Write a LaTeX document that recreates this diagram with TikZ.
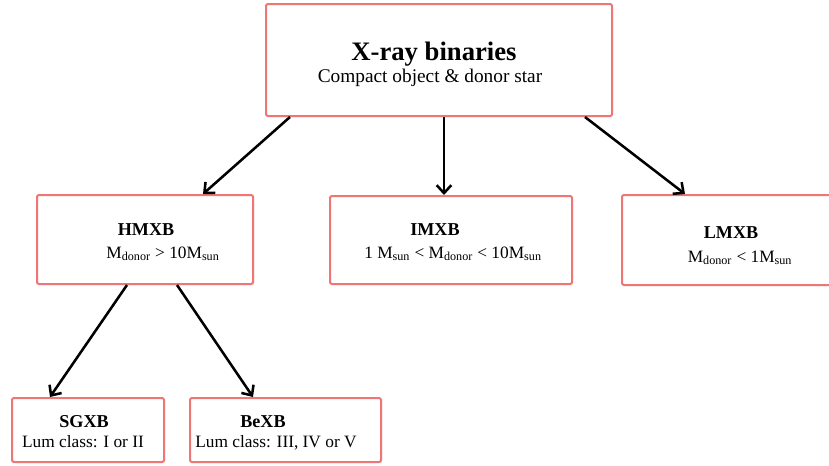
\documentclass[tikz,border=0pt]{standalone}
\usepackage{fontspec}
\setmainfont{Liberation Serif}
\usetikzlibrary{arrows.meta,shadows}
\definecolor{boxred}{RGB}{240,118,118}
\tikzset{
  box/.style={draw=boxred, line width=1.5pt, rounded corners=1.5pt, fill=white,
    drop shadow={opacity=0.18, shadow xshift=0.8pt, shadow yshift=-0.8pt},
    inner sep=0pt},
  arr/.style={line width=1.9pt, -{Straight Barb[length=6pt,width=11pt,line width=1.9pt]}},
  ttl/.style={anchor=base, inner sep=0pt, font=\fontsize{13.6}{15}\selectfont\bfseries},
  sub/.style={anchor=base, inner sep=0pt, font=\fontsize{13}{15}\selectfont},
}
\newcommand{\Msub}[1]{M\textsubscript{#1}}
\begin{document}
\begin{tikzpicture}[x=0.75pt,y=-0.75pt]
\useasboundingbox (0,0) rectangle (829,465);
\clip (0,0) rectangle (829,465);
% boxes
\node[box, minimum width=346*0.75pt, minimum height=112*0.75pt] (top) at (439,60) {};
\node[box, minimum width=216*0.75pt, minimum height=89*0.75pt] (hmxb) at (145,239.5) {};
\node[box, minimum width=242*0.75pt, minimum height=88*0.75pt] (imxb) at (451,240) {};
\node[box, minimum width=218*0.75pt, minimum height=90*0.75pt] (lmxb) at (731,240) {};
\node[box, minimum width=152*0.75pt, minimum height=64*0.75pt] (sgxb) at (88,430) {};
\node[box, minimum width=191*0.75pt, minimum height=64*0.75pt] (bexb) at (285.5,430) {};
% texts
\node[anchor=base, inner sep=0pt, font=\fontsize{20}{24}\selectfont\bfseries] (toptitle) at (434,60) {X-ray binaries};
\node[anchor=base, inner sep=0pt, font=\fontsize{14.5}{17}\selectfont] (topsub) at (430,82) {Compact object \& donor star};
\node[ttl] (hmxbt) at (146,235) {HMXB};
\node[sub] (hmxbs) at (163,258) {\Msub{donor} > 10\Msub{sun}};
\node[ttl] (imxbt) at (435,235) {IMXB};
\node[sub] (imxbs) at (453,258) {1 \Msub{sun} < \Msub{donor} < 10\Msub{sun}};
\node[ttl] (lmxbt) at (731,238) {LMXB};
\node[sub] (lmxbs) at (740,262) {\Msub{donor} < 1\Msub{sun}};
\node[ttl] (sgxbt) at (84,427) {SGXB};
\node[sub] (sgxbs) at (83,447) {Lum class: I or II};
\node[ttl] (bexbt) at (263,427) {BeXB};
\node[sub] (bexbs) at (276,447) {Lum class: III, IV or V};
% arrow anchor x positions
\coordinate (c1) at (290,0);
\coordinate (c2) at (203,0);
\coordinate (c3) at (444,0);
\coordinate (c4) at (585,0);
\coordinate (c5) at (685,0);
\coordinate (c6) at (127,0);
\coordinate (c7) at (50,0);
\coordinate (c8) at (177,0);
\coordinate (c9) at (253,0);
% arrows
\draw[arr] (top.south -| c1) -- (hmxb.north -| c2);
\draw[arr] (top.south -| c3) -- (imxb.north -| c3);
\draw[arr] (top.south -| c4) -- (lmxb.north -| c5);
\draw[arr] (hmxb.south -| c6) -- (sgxb.north -| c7);
\draw[arr] (hmxb.south -| c8) -- (bexb.north -| c9);
\end{tikzpicture}
\end{document}
